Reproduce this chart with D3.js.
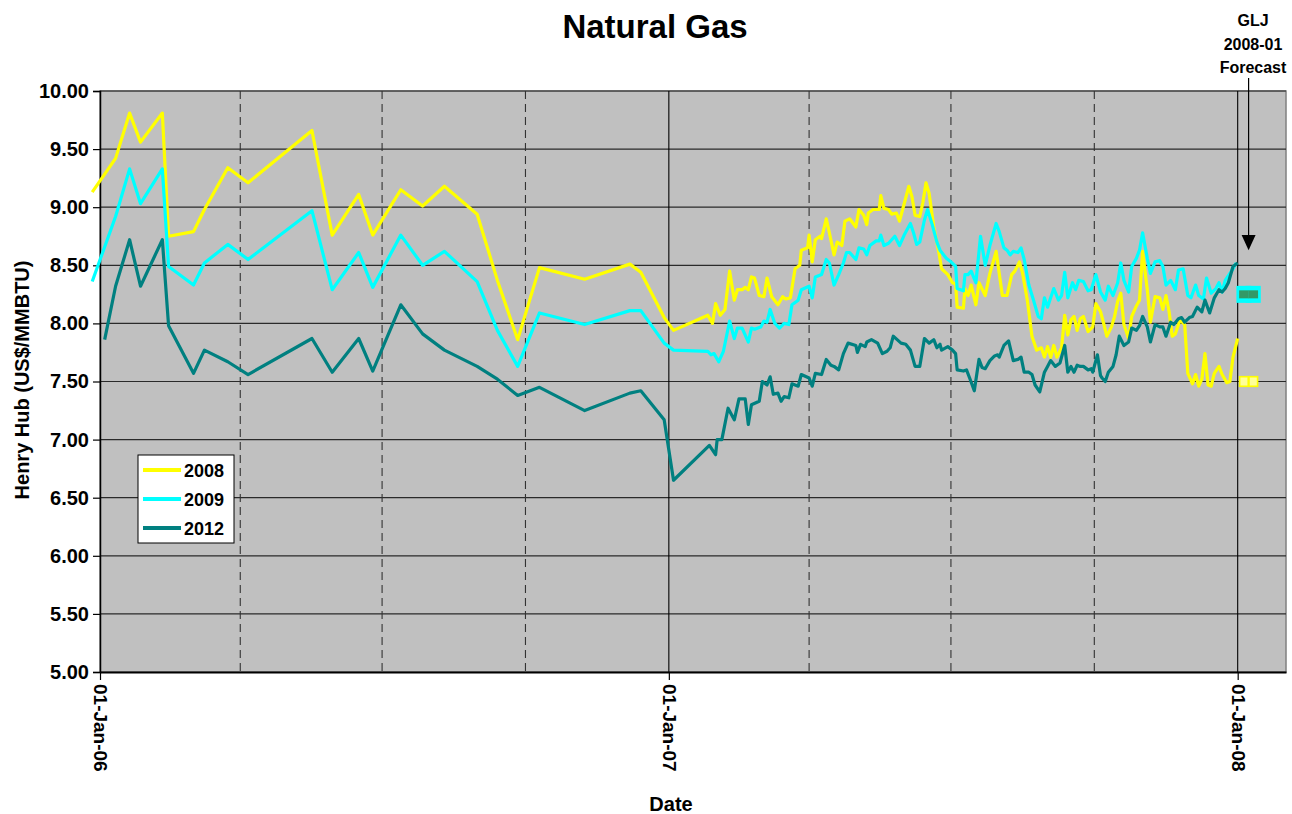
<!DOCTYPE html>
<html lang="en">
<head>
    <meta charset="UTF-8">
    <title>Natural Gas</title>
    <script src="https://d3js.org/d3.v7.min.js"></script>
    <style>
    html, body {
        margin: 0;
        background: #fff;
    }
    svg text {
        font-family: "Liberation Sans", Arial, sans-serif;
        font-weight: bold;
    }
    </style>
</head>
<body>
<svg id="chart" width="1292" height="814"></svg>
<script>
    // days counted from 01-Jan-2006, Henry Hub strip price US$/MMBTU
    var strip2008 = [
        [-5,9.13],[10,9.42],[19,9.81],[26,9.56],[40,9.81],[44,8.75],[60,8.79],[67,8.98],[82,9.34],[95,9.21],
        [136,9.66],[149,8.76],[166,9.11],[175,8.76],[193,9.15],[207,9.01],[221,9.18],[242,8.94],[255,8.37],[268,7.86],
        [282,8.48],[311,8.38],[340,8.51],[347,8.44],[362,8.05],[368,7.94],
        [390,8.07],[393,8.00],[395,8.17],[398,8.07],[401,8.12],[404,8.45],[407,8.20],[409,8.29],[412,8.29],[414,8.31],
        [416,8.29],[418,8.40],[420,8.39],[423,8.24],[426,8.23],[428,8.39],[431,8.23],[435,8.16],[438,8.23],[440,8.21],
        [443,8.22],[446,8.47],[449,8.50],[450,8.63],[454,8.65],[455,8.76],[457,8.53],[459,8.72],[462,8.75],[463,8.73],
        [466,8.90],[468,8.78],[471,8.59],[473,8.70],[476,8.67],[478,8.88],
        [481,8.90],[485,8.83],[487,8.98],[490,8.93],[492,8.85],[493,8.95],[496,8.98],[500,8.98],[501,9.10],[503,8.99],
        [506,8.98],[508,8.94],[511,8.95],[513,8.88],[516,9.03],[519,9.18],[521,9.09],[523,8.93],[526,8.92],[528,9.04],
        [530,9.21],[532,9.12],[535,8.83],[538,8.63],[540,8.47],[544,8.42],[547,8.35],[549,8.34],[550,8.14],[554,8.13],
        [555,8.30],[557,8.24],[559,8.33],[562,8.16],[564,8.35],[568,8.24],[571,8.43],[575,8.62],[577,8.43],[579,8.24],
        [582,8.24],[585,8.42],[587,8.45],[590,8.53],[592,8.43],[595,8.20],[598,7.89],[601,7.77],
        [604,7.79],[606,7.71],[608,7.80],[610,7.71],[612,7.81],[614,7.71],[617,7.79],[619,8.07],[621,7.90],[623,8.03],
        [625,8.06],[627,7.94],[629,8.04],[631,8.06],[634,7.93],[637,7.97],[639,8.17],[642,8.10],[644,8.00],[646,7.89],
        [649,7.97],[651,8.06],[653,8.19],[655,8.26],[657,7.99],[660,7.87],[662,8.06],[665,8.15],[667,8.20],[669,8.62],
        [672,8.29],[674,8.01],[677,8.23],[680,8.22],[682,8.12],[684,8.24],[686,8.10],[688,7.89],[690,7.91],[693,8.03],
        [696,7.99],[698,7.57],[701,7.48],[703,7.56],[705,7.46],[707,7.52],[709,7.74],[711,7.47],[713,7.46],[715,7.57],
        [718,7.63],[720,7.56],[723,7.49],[725,7.50],[727,7.71],[730,7.87]
    ];

    var strip2009 = [
        [-5,8.36],[10,8.92],[19,9.33],[26,9.03],[40,9.33],[44,8.49],[60,8.33],[67,8.52],[82,8.68],[95,8.55],
        [136,8.97],[149,8.29],[166,8.61],[175,8.31],[193,8.76],[207,8.50],[221,8.62],[242,8.36],[255,7.94],[268,7.63],
        [282,8.09],[311,7.99],[340,8.11],[347,8.11],[362,7.83],[368,7.77],
        [390,7.76],[392,7.73],[394,7.74],[397,7.67],[400,7.76],[404,8.02],[407,7.87],[409,7.96],[412,7.96],[416,7.84],
        [418,7.96],[420,7.95],[424,7.97],[426,8.02],[428,8.01],[430,8.12],[433,8.00],[436,7.96],[439,8.00],[442,7.99],
        [444,8.16],[448,8.20],[450,8.29],[455,8.32],[457,8.22],[459,8.40],[463,8.42],[466,8.55],[468,8.52],[471,8.33],
        [474,8.42],[477,8.52],[479,8.61],
        [481,8.61],[485,8.55],[487,8.65],[490,8.64],[492,8.59],[494,8.67],[498,8.71],[500,8.71],[501,8.76],[503,8.67],
        [506,8.69],[508,8.72],[510,8.75],[513,8.67],[516,8.76],[520,8.86],[522,8.78],[524,8.68],[526,8.70],[529,8.89],
        [531,8.98],[534,8.85],[537,8.70],[539,8.63],[543,8.56],[546,8.53],[549,8.49],[550,8.30],[554,8.28],[555,8.42],
        [557,8.42],[559,8.45],[562,8.35],[565,8.75],[568,8.50],[571,8.67],[575,8.86],[577,8.79],[580,8.65],[582,8.63],
        [584,8.59],[586,8.62],[589,8.61],[591,8.65],[593,8.55],[596,8.33],[599,8.20],[602,8.06],
        [604,8.04],[606,8.22],[608,8.14],[610,8.22],[612,8.30],[615,8.20],[617,8.24],[619,8.44],[621,8.22],[624,8.35],
        [626,8.29],[628,8.37],[631,8.36],[634,8.28],[636,8.29],[639,8.42],[642,8.27],[645,8.20],[647,8.32],[650,8.24],
        [653,8.35],[655,8.52],[657,8.37],[660,8.27],[662,8.49],[665,8.56],[667,8.63],[669,8.78],[672,8.56],[674,8.43],
        [677,8.53],[680,8.54],[682,8.49],[684,8.33],[687,8.37],[690,8.29],[692,8.46],[695,8.47],[698,8.24],[700,8.22],
        [703,8.33],[705,8.24],[708,8.21],[710,8.39],[713,8.26],[716,8.30],[718,8.35],[720,8.27],[722,8.37],[725,8.43],
        [727,8.47],[729,8.52]
    ];

    var strip2012 = [
        [3,7.86],[10,8.32],[19,8.72],[26,8.32],[40,8.72],[44,7.98],[60,7.57],[67,7.77],[82,7.67],[95,7.56],
        [136,7.87],[149,7.58],[166,7.87],[175,7.59],[193,8.16],[207,7.91],[221,7.77],[242,7.63],[255,7.52],[268,7.38],
        [282,7.45],[311,7.25],[340,7.40],[347,7.42],[362,7.17],[368,6.65],
        [391,6.95],[395,6.87],[396,7.00],[399,7.00],[403,7.27],[407,7.17],[410,7.35],[414,7.35],[416,7.13],[418,7.30],
        [423,7.33],[425,7.50],[428,7.47],[430,7.54],[432,7.39],[435,7.40],[437,7.33],[439,7.37],[442,7.36],[444,7.48],
        [448,7.46],[450,7.56],[455,7.53],[457,7.46],[459,7.57],[463,7.56],[466,7.69],[469,7.64],[471,7.63],[474,7.60],
        [477,7.74],[480,7.83],
        [485,7.81],[486,7.75],[488,7.82],[491,7.80],[492,7.84],[495,7.86],[499,7.83],[502,7.74],[505,7.76],[507,7.79],
        [509,7.89],[514,7.83],[517,7.82],[520,7.77],[523,7.63],[526,7.63],[529,7.87],[532,7.83],[535,7.86],[537,7.79],
        [539,7.82],[540,7.77],[544,7.80],[547,7.77],[549,7.74],[550,7.60],[554,7.59],[556,7.60],[558,7.53],[561,7.42],
        [564,7.69],[566,7.62],[568,7.61],[571,7.68],[574,7.72],[576,7.73],[577,7.71],[580,7.81],[583,7.85],[586,7.68],
        [589,7.69],[591,7.71],[593,7.58],[596,7.58],[598,7.56],[600,7.47],[603,7.41],
        [606,7.58],[608,7.63],[610,7.68],[613,7.63],[616,7.66],[619,7.81],[621,7.58],[623,7.63],[625,7.58],[627,7.64],
        [629,7.63],[631,7.63],[634,7.60],[636,7.61],[637,7.58],[640,7.73],[642,7.55],[643,7.53],[645,7.50],[647,7.58],
        [650,7.63],[652,7.73],[654,7.89],[657,7.81],[660,7.84],[662,7.96],[665,7.94],[667,7.98],[669,8.06],[672,7.97],
        [674,7.84],[677,7.99],[680,7.97],[682,7.97],[684,7.89],[687,8.01],[689,7.99],[692,8.04],[694,8.05],[696,8.01],
        [699,8.05],[701,8.06],[704,8.14],[707,8.10],[709,8.20],[712,8.09],[715,8.22],[718,8.29],[720,8.27],[722,8.30],
        [724,8.35],[727,8.49],[730,8.52]
    ];

    // GLJ 2008-01 forecast (two markers each)
    var forecastDays = [734, 740];
    var forecast2008 = 7.50;
    var forecast2009 = 8.25;
    var forecast2012 = 8.25;
    var arrowDay = 737;

    var series = [
        { name: "2008", color: "#FFFF00", data: strip2008 },
        { name: "2009", color: "#00FFFF", data: strip2009 },
        { name: "2012", color: "#008080", data: strip2012 }
    ];
    var yTicks = [5, 5.5, 6, 6.5, 7, 7.5, 8, 8.5, 9, 9.5, 10];

    var base = Date.UTC(2006, 0, 1);
    function toDate(d) { return new Date(base + d * 864e5); }

    var svg = d3.select("#chart");
    var plotLeft = 100, plotRight = 1286, plotTop = 91, plotBottom = 672;

    var x = d3.scaleUtc()
        .domain([new Date(Date.UTC(2006, 0, 1)), new Date(Date.UTC(2008, 1, 1))])
        .range([plotLeft, plotRight]);
    var y = d3.scaleLinear().domain([5, 10]).range([plotBottom, plotTop]);

    // plot background
    svg.append("rect")
        .attr("x", plotLeft).attr("y", plotTop)
        .attr("width", plotRight - plotLeft).attr("height", plotBottom - plotTop)
        .attr("fill", "#C0C0C0")
        .attr("stroke", "#808080")
        .attr("stroke-width", 1.5);

    // horizontal gridlines
    svg.append("g").selectAll("line")
        .data(yTicks.slice(1))
        .enter().append("line")
        .attr("x1", plotLeft).attr("x2", plotRight)
        .attr("y1", function (d) { return y(d); })
        .attr("y2", function (d) { return y(d); })
        .attr("stroke", "#2a2a2a")
        .attr("stroke-width", 1.2);

    // quarterly dashed, yearly solid vertical lines
    var quarters = d3.utcMonth.every(3).range(new Date(Date.UTC(2006, 3, 1)), new Date(Date.UTC(2008, 1, 1)));
    svg.append("g").selectAll("line")
        .data(quarters)
        .enter().append("line")
        .attr("x1", function (d) { return x(d); })
        .attr("x2", function (d) { return x(d); })
        .attr("y1", plotTop).attr("y2", plotBottom)
        .attr("stroke", function (d) { return d.getUTCMonth() === 0 ? "#000" : "#333"; })
        .attr("stroke-width", 1.1)
        .attr("stroke-dasharray", function (d) { return d.getUTCMonth() === 0 ? null : "8,5"; });

    // axes
    var yAxis = d3.axisLeft(y)
        .tickValues(yTicks)
        .tickFormat(d3.format(".2f"))
        .tickSize(7)
        .tickPadding(4);
    var gy = svg.append("g")
        .attr("transform", "translate(" + plotLeft + ",0)")
        .call(yAxis);
    gy.select(".domain").attr("stroke", "#000").attr("stroke-width", 1.5);
    gy.selectAll(".tick line").attr("stroke", "#000").attr("stroke-width", 1.2);
    gy.selectAll("text")
        .attr("font-size", "20px")
        .attr("fill", "#000");

    var xAxis = d3.axisBottom(x)
        .tickValues([new Date(Date.UTC(2006, 0, 1)), new Date(Date.UTC(2007, 0, 1)), new Date(Date.UTC(2008, 0, 1))])
        .tickFormat(d3.utcFormat("%d-%b-%y"))
        .tickSizeInner(8)
        .tickSizeOuter(0);
    var gx = svg.append("g")
        .attr("transform", "translate(0," + plotBottom + ")")
        .call(xAxis);
    gx.select(".domain").attr("stroke", "#000").attr("stroke-width", 2);
    gx.selectAll(".tick line").attr("stroke", "#000").attr("stroke-width", 1.2);
    gx.selectAll("text")
        .attr("font-size", "19px")
        .attr("fill", "#000")
        .attr("transform", "rotate(90)")
        .attr("text-anchor", "start")
        .attr("x", 12)
        .attr("y", 0)
        .attr("dy", "0.35em");

    // series lines
    var line = d3.line()
        .x(function (d) { return x(toDate(d[0])); })
        .y(function (d) { return y(d[1]); });

    svg.append("g").selectAll("path")
        .data(series)
        .enter().append("path")
        .attr("d", function (s) { return line(s.data); })
        .attr("fill", "none")
        .attr("stroke", function (s) { return s.color; })
        .attr("stroke-width", 3.2)
        .attr("stroke-linejoin", "round");

    // forecast markers
    var fm = svg.append("g");
    fm.selectAll(".f09")
        .data(forecastDays)
        .enter().append("rect")
        .attr("x", function (d) { return x(toDate(d)) - 7.5; })
        .attr("y", y(forecast2009) - 8.5)
        .attr("width", 15).attr("height", 17)
        .attr("fill", "#00FFFF");
    fm.selectAll(".f12")
        .data(forecastDays)
        .enter().append("rect")
        .attr("x", function (d) { return x(toDate(d)) - 4.8; })
        .attr("y", y(forecast2012) - 4)
        .attr("width", 9.6).attr("height", 8)
        .attr("fill", "#339966");
    fm.selectAll(".f08")
        .data(forecastDays)
        .enter().append("rect")
        .attr("x", function (d) { return x(toDate(d)) - 4.3; })
        .attr("y", y(forecast2008) - 4.8)
        .attr("width", 8.6).attr("height", 9.6)
        .attr("fill", "#FFFF99")
        .attr("stroke", "#FFFF00")
        .attr("stroke-width", 1.6);

    // forecast arrow + label
    var ax = x(toDate(arrowDay));
    svg.append("line")
        .attr("x1", ax).attr("x2", ax)
        .attr("y1", 78).attr("y2", y(8.74))
        .attr("stroke", "#000").attr("stroke-width", 1.2);
    svg.append("path")
        .attr("d", "M" + (ax - 7) + "," + y(8.76) + "L" + (ax + 7) + "," + y(8.76) + "L" + ax + "," + y(8.63) + "Z")
        .attr("fill", "#000");
    var glj = ["GLJ", "2008-01", "Forecast"];
    svg.append("g").selectAll("text")
        .data(glj)
        .enter().append("text")
        .attr("x", 1253)
        .attr("y", function (d, i) { return 26 + i * 23.5; })
        .attr("text-anchor", "middle")
        .attr("font-size", "16px")
        .text(function (d) { return d; });

    // titles
    svg.append("text")
        .attr("x", 655).attr("y", 38)
        .attr("text-anchor", "middle")
        .attr("font-size", "33px")
        .text("Natural Gas");
    svg.append("text")
        .attr("x", 671).attr("y", 811)
        .attr("text-anchor", "middle")
        .attr("font-size", "20px")
        .text("Date");
    svg.append("text")
        .attr("transform", "translate(29,380) rotate(-90)")
        .attr("text-anchor", "middle")
        .attr("font-size", "20px")
        .text("Henry Hub (US$/MMBTU)");

    // legend
    var lg = svg.append("g").attr("transform", "translate(138,455)");
    lg.append("rect")
        .attr("width", 96).attr("height", 88)
        .attr("fill", "#fff").attr("stroke", "#000").attr("stroke-width", 1);
    var item = lg.selectAll(".item")
        .data(series)
        .enter().append("g")
        .attr("transform", function (d, i) { return "translate(0," + (15 + i * 29) + ")"; });
    item.append("line")
        .attr("x1", 5).attr("x2", 43)
        .attr("stroke", function (d) { return d.color; })
        .attr("stroke-width", 4);
    item.append("text")
        .attr("x", 46).attr("y", 7)
        .attr("font-size", "18px")
        .text(function (d) { return d.name; });
</script>
</body>
</html>
